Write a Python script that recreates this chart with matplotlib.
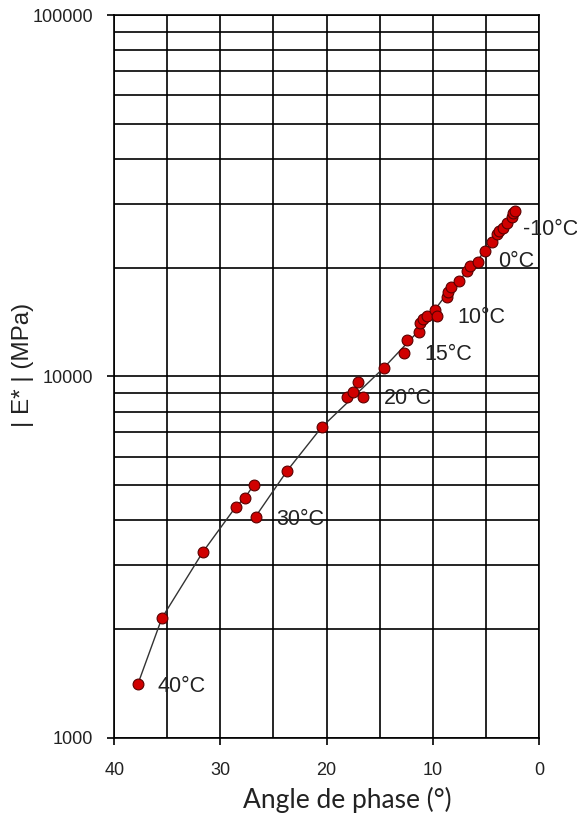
import matplotlib
matplotlib.use("Agg")
import matplotlib.pyplot as plt
import numpy as np
from matplotlib.ticker import FixedLocator, NullFormatter, FixedFormatter

plt.rcParams["font.family"] = ["Liberation Sans", "DejaVu Sans"]

# measured points (phase angle in deg, |E*| in MPa)
phase = [37.77, 35.51, 31.65, 28.54, 27.69, 26.84,
         26.69, 23.71, 20.47,
         18.12, 17.55, 17.02, 16.55, 14.60,
         12.72, 12.44, 11.28, 11.22,
         10.90, 10.53, 9.80, 9.64, 8.70, 8.55, 8.32,
         7.54, 6.76, 6.51, 5.78, 5.09,
         4.46, 3.99, 3.75, 3.43, 3.05, 2.58, 2.43, 2.27]
modulus = [1410, 2147, 3270, 4364, 4620, 5020,
           4095, 5488, 7236,
           8790, 9080, 9640, 8790, 10576,
           11590, 12580, 13300, 14030,
           14390, 14700, 15270, 14700, 16630, 17170, 17660,
           18380, 19620, 20220, 20780, 22280,
           23500, 24790, 25310, 25700, 26640, 27570, 28290, 28750]

# curve drawn through the data
line1_phase = [37.77, 35.51, 31.65, 28.54, 27.69, 26.84]
line1_mod = [1410, 2147, 3270, 4364, 4620, 5020]
line2_phase = [26.69, 23.71, 20.47, 14.60, 11.2, 8.5, 5.8, 2.27]
line2_mod = [4095, 5488, 7236, 10576, 13500, 17200, 20900, 28750]

temp_labels = ["40°C", "30°C", "20°C", "15°C", "10°C", "0°C", "-10°C"]
label_phase = [35.95, 24.75, 14.58, 10.81, 7.70, 3.84, 1.49]
label_mod = [1392, 4010, 8670, 11540, 14520, 20760, 25430]

fig = plt.figure(figsize=(5.77, 8.19), dpi=100)
ax = fig.add_axes([0.198, 0.099, 0.736, 0.8826])

ax.set_yscale("log")
ax.set_xlim(40, 0)
ax.set_ylim(1000, 100000)

ax.plot(line1_phase, line1_mod, color="#333333", lw=1.0, zorder=3)
ax.plot(line2_phase, line2_mod, color="#333333", lw=1.0, zorder=3)
ax.plot(phase, modulus, "o", ms=7.8, mfc="#d00000", mec="#5a0000",
        mew=0.8, zorder=4)

for t, x, y in zip(temp_labels, label_phase, label_mod):
    ax.text(x, y, t, fontsize=15.5, color="#222222",
            ha="left", va="center", zorder=5)

# grid
ax.xaxis.set_major_locator(FixedLocator([40, 30, 20, 10, 0]))
ax.xaxis.set_minor_locator(FixedLocator([35, 25, 15, 5]))
ax.yaxis.set_major_locator(FixedLocator([1000, 10000, 100000]))
ax.yaxis.set_major_formatter(FixedFormatter(["1000", "10000", "100000"]))
minors = [m * d for d in (1000, 10000) for m in range(2, 10)]
ax.yaxis.set_minor_locator(FixedLocator(minors))
ax.yaxis.set_minor_formatter(NullFormatter())
ax.grid(True, which="both", color="black", lw=1.2)
ax.tick_params(which="major", direction="out", length=5, width=1.2,
               labelsize=13, colors="black", labelcolor="#222222")
ax.tick_params(axis="x", which="major", pad=12)
ax.tick_params(axis="y", which="major", pad=10)
ax.tick_params(which="minor", length=0)
for s in ax.spines.values():
    s.set_color("black")
    s.set_linewidth(1.2)

ax.set_xlabel("Angle de phase (°)", fontsize=19, family="Lato", color="#222222",
              va="center")
ax.xaxis.set_label_coords(0.548, -0.086)
ax.set_ylabel("| E* | (MPa)", fontsize=17.5, color="#222222", va="center")
ax.yaxis.set_label_coords(-0.216, 0.516)

fig.savefig("out.png", dpi=100)
